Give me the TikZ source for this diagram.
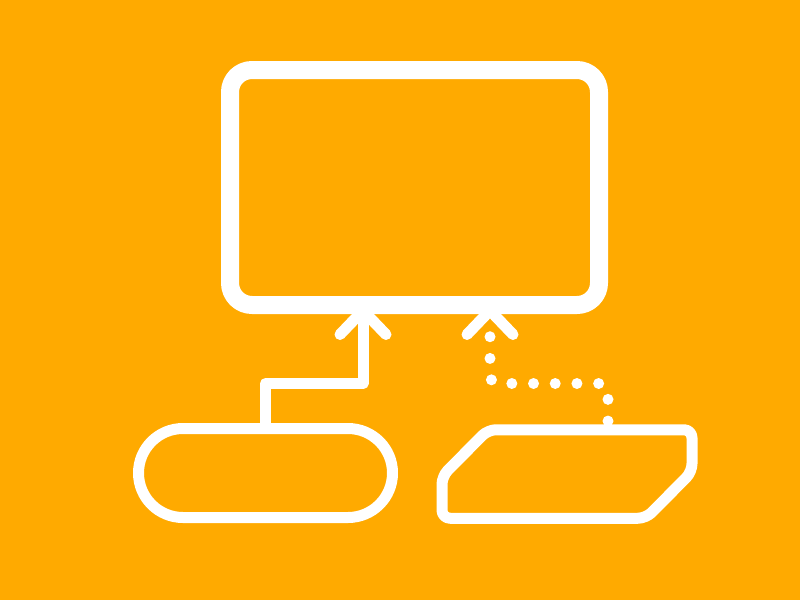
\documentclass[tikz,border=0pt]{standalone}
\usetikzlibrary{shapes.misc,arrows.meta}
\definecolor{bgorange}{RGB}{255,170,0}
\begin{document}
\begin{tikzpicture}[x=1pt,y=-1pt,line join=round,
	box/.style={draw=white,inner sep=0pt,outer sep=0pt},
	conn/.style={white,line width=11pt,-{Straight Barb[length=24pt,width=46pt,round]}},
	dots/.style={conn,line cap=round,dash pattern=on 0pt off 21.7pt,dash phase=19pt}]
	\fill[bgorange] (0,0) rectangle (800,600);
	\node[box,line width=18pt,rounded corners=22pt,minimum width=369pt,minimum height=235pt] (monitor) at (414.5,187.5) {};
	\node[box,line width=11pt,rounded rectangle,minimum width=254pt,minimum height=89pt] (term) at (265.5,473) {};
	% cut-corner box, outline drawn from its corners
	\node[inner sep=0pt,outer sep=0pt,minimum width=250pt,minimum height=88.5pt] (drive) at (567,474) {};
	\draw[white,line width=11pt,rounded corners=8pt] (drive.south west) -- ++(0,-42) -- ++(46,-46.5)
		-- (drive.north east) -- ++(0,42) -- ++(-46,46.5) -- cycle;
	\coordinate (up1) at (363,383.5);
	\coordinate (up2) at (490,383.5);
	\coordinate (turn) at (608,383.5);
	\draw[conn] (term.north) |- (up1) -- (up1 |- monitor.south);
	\draw[dots,shorten <=6pt] (turn |- drive.north) [rounded corners=8pt] -- (turn) -- (up2) [sharp corners] -- (up2 |- monitor.south);
\end{tikzpicture}
\end{document}
